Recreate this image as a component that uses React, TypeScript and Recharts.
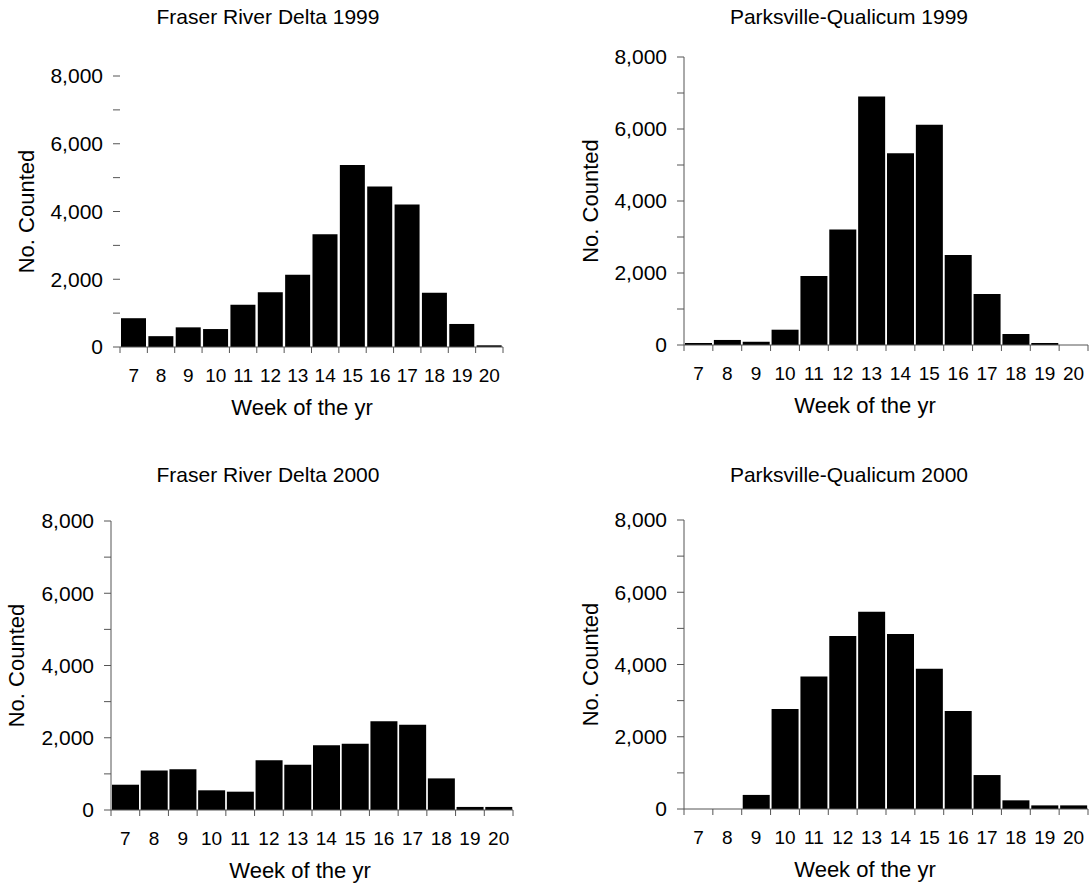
import React from 'react';
import { BarChart, Bar, XAxis, YAxis } from 'recharts';

const weeks = [7, 8, 9, 10, 11, 12, 13, 14, 15, 16, 17, 18, 19, 20];
const fraser1999 = [850, 320, 580, 530, 1250, 1615, 2135, 3325, 5375, 4735, 4210, 1605, 680, 50];
const parksville1999 = [55, 140, 90, 425, 1920, 3210, 6900, 5325, 6115, 2500, 1420, 305, 55, 0];
const fraser2000 = [700, 1090, 1125, 545, 507, 1375, 1255, 1790, 1835, 2455, 2360, 875, 85, 85];
const parksville2000 = [0, 0, 390, 2770, 3670, 4790, 5460, 4845, 3885, 2710, 940, 240, 100, 100];
const yTicks = [0, 1000, 2000, 3000, 4000, 5000, 6000, 7000, 8000];
const titles = ['Fraser River Delta 1999', 'Parksville-Qualicum 1999', 'Fraser River Delta 2000', 'Parksville-Qualicum 2000'];
const xTitle = 'Week of the yr';
const yTitle = 'No. Counted';

const AXIS = '#555';
const FONT = '"Liberation Sans", Arial, Helvetica, sans-serif';

const toRows = (vals: number[]) => weeks.map((w, i) => ({ week: w, count: vals[i] }));

type Layout = {
  left: number; top: number; w: number; h: number;
  yw: number; mr: number; mt: number; mb: number;
  titleX: number; titleY: number; yLabelX: number; xLabelX: number; yLine: boolean;
};

const layouts: Layout[] = [
  { left: 0, top: 0, w: 545, h: 444, yw: 120, mr: 42, mt: 76, mb: 27, titleX: 268, titleY: 17, yLabelX: 26, xLabelX: 302, yLine: false },
  { left: 545, top: 0, w: 545, h: 444, yw: 139, mr: 2, mt: 57, mb: 29, titleX: 304, titleY: 17, yLabelX: 45, xLabelX: 320, yLine: true },
  { left: 0, top: 444, w: 545, h: 444, yw: 111, mr: 32, mt: 77, mb: 8, titleX: 268, titleY: 31, yLabelX: 16, xLabelX: 300, yLine: true },
  { left: 545, top: 444, w: 545, h: 444, yw: 139, mr: 2, mt: 76, mb: 9, titleX: 304, titleY: 31, yLabelX: 45, xLabelX: 320, yLine: true },
];

const datasets = [fraser1999, parksville1999, fraser2000, parksville2000];

const makeXTick = (bw: number, n: number) => (props: any) => {
  const { x, y, payload, index } = props;
  const l = x - bw / 2;
  const r = x + bw / 2;
  return (
    <g>
      <line x1={l} y1={y} x2={l} y2={y + 6} stroke={AXIS} />
      {index === n - 1 ? <line x1={r} y1={y} x2={r} y2={y + 6} stroke={AXIS} /> : null}
      <text x={x} y={y + 28} dy="0.36em" textAnchor="middle" fontSize={19} fill="#000" style={{ fontFamily: FONT }}>
        {payload.value}
      </text>
    </g>
  );
};

const fmt = (v: number) => (v % 2000 === 0 ? v.toLocaleString('en-US') : '');

function Panel({ idx }: { idx: number }) {
  const L = layouts[idx];
  const rows = toRows(datasets[idx]);
  const bw = (L.w - L.yw - L.mr) / weeks.length;
  const yLabel = (props: any) => {
    const vb = props.viewBox || {};
    const cx = L.yLabelX;
    const cy = (vb.y ?? L.mt) + (vb.height ?? 0) / 2;
    return (
      <text x={cx} y={cy} transform={`rotate(-90 ${cx} ${cy})`} textAnchor="middle" dominantBaseline="central" fontSize={22} fill="#000" style={{ fontFamily: FONT }}>
        {yTitle}
      </text>
    );
  };
  const xLabel = (props: any) => {
    const vb = props.viewBox || {};
    const y = (vb.y ?? 0) + 60;
    return (
      <text x={L.xLabelX} y={y} dy="0.36em" textAnchor="middle" fontSize={22} fill="#000" style={{ fontFamily: FONT }}>
        {xTitle}
      </text>
    );
  };
  return (
    <div style={{ position: 'absolute', left: L.left, top: L.top, width: L.w, height: L.h }}>
      <div style={{ position: 'absolute', left: L.titleX - 200, width: 400, top: L.titleY - 13, textAlign: 'center', fontSize: 21, lineHeight: '26px', color: '#000', fontFamily: FONT }}>
        {titles[idx]}
      </div>
      <BarChart width={L.w} height={L.h} data={rows} margin={{ top: L.mt, right: L.mr, bottom: L.mb, left: 0 }} barCategoryGap={1}>
        <XAxis
          dataKey="week"
          type="category"
          interval={0}
          height={70}
          tickSize={0}
          tickMargin={0}
          tickLine={false}
          axisLine={{ stroke: AXIS }}
          tick={makeXTick(bw, weeks.length)}
          label={{ content: xLabel }}
        />
        <YAxis
          width={L.yw}
          domain={[0, 8000]}
          ticks={yTicks}
          interval={0}
          tickSize={7}
          tickMargin={10}
          tickFormatter={fmt}
          axisLine={L.yLine ? { stroke: AXIS } : false}
          tickLine={{ stroke: AXIS }}
          tick={{ fontSize: 21, fill: '#000', fontFamily: FONT }}
          label={{ content: yLabel }}
        />
        <Bar dataKey="count" fill="#000" isAnimationActive={false} />
      </BarChart>
    </div>
  );
}

export default function App() {
  return (
    <div style={{ position: 'absolute', left: 0, top: 0, width: 1090, height: 888, background: '#fff', fontFamily: FONT }}>
      {[0, 1, 2, 3].map((i) => (
        <Panel key={i} idx={i} />
      ))}
    </div>
  );
}
